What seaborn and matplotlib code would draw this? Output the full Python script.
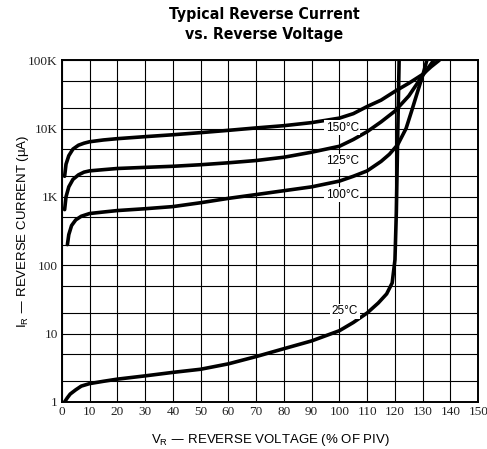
import matplotlib
matplotlib.use("Agg")
import matplotlib.pyplot as plt
import matplotlib.ticker as mticker
import seaborn as sns

# curves (x = % of PIV, y = reverse current in uA)
x_150 = [1, 1.5, 2.5, 4, 6, 8, 10, 15, 20, 30, 40, 50, 60, 70, 80, 90, 100, 105, 110, 115, 120, 125, 130, 133, 136]
y_150 = [2000, 3000, 4000, 5000, 5700, 6100, 6400, 6800, 7100, 7600, 8100, 8700, 9400, 10200, 11000, 12200, 14200,
         16500, 21000, 26000, 35000, 46000, 62000, 80000, 100000]

x_125 = [1, 1.5, 2.5, 4, 6, 8, 10, 15, 20, 30, 40, 50, 60, 70, 80, 90, 100, 105, 110, 115, 120, 125, 130, 134]
y_125 = [650, 1000, 1400, 1800, 2100, 2300, 2400, 2500, 2600, 2700, 2800, 2950, 3150, 3400, 3800, 4500, 5500,
         6900, 9000, 12500, 18000, 30000, 60000, 100000]

x_100 = [2, 2.5, 3.5, 5, 7, 10, 15, 20, 30, 40, 50, 60, 70, 80, 90, 100, 105, 110, 115, 118, 121, 124, 126, 128,
         130, 131.5]
y_100 = [200, 280, 380, 460, 520, 570, 600, 630, 670, 720, 820, 950, 1080, 1230, 1400, 1700, 2000, 2400, 3300,
         4200, 5800, 10000, 18000, 33000, 60000, 100000]

x_25 = [1, 2, 3, 5, 7, 10, 15, 20, 30, 40, 50, 60, 70, 80, 90, 100, 105, 110, 114, 117, 119, 120, 120.5, 121, 121.5]
y_25 = [1, 1.15, 1.3, 1.5, 1.7, 1.85, 2.0, 2.15, 2.4, 2.7, 3.0, 3.6, 4.6, 6.0, 7.8, 11, 14.5, 20, 28, 38, 55, 120,
        600, 8000, 100000]

curves = [("150°C", x_150, y_150), ("125°C", x_125, y_125), ("100°C", x_100, y_100), ("25°C", x_25, y_25)]
# label positions
label_x = [101, 101, 101, 102]
label_y = [10300, 3300, 1080, 21]

y_ticks = [1, 10, 100, 1000, 10000, 100000]
y_tick_labels = ["1", "10", "100", "1K", "10K", "100K"]
x_ticks = list(range(0, 151, 10))

sns.set_style("white")
plt.rcParams['font.family'] = ['Liberation Sans', 'DejaVu Sans']
plt.rcParams.update({"text.color": "black", "axes.labelcolor": "black",
                     "xtick.color": "black", "ytick.color": "black"})

fig = plt.figure(figsize=(4.87, 4.49), dpi=100)
ax = fig.add_axes([0.127, 0.105, 0.855, 0.761])

for (name, xs, ys) in curves:
    sns.lineplot(x=xs, y=ys, ax=ax, color="black", lw=2.6, sort=False, estimator=None)

ax.set_yscale("log")
ax.set_xlim(0, 150)
ax.set_ylim(1, 100000)
ax.set_xticks(x_ticks)
ax.set_xticklabels([str(t) for t in x_ticks], family="Liberation Serif", fontsize=9.5, color="#222222")
ax.set_yticks(y_ticks)
ax.set_yticklabels(y_tick_labels, family="Liberation Serif", fontsize=9.5, color="#222222")
ax.yaxis.set_minor_locator(mticker.LogLocator(base=10, subs=[2, 5]))
ax.yaxis.set_minor_formatter(mticker.NullFormatter())
ax.tick_params(which="both", length=0, pad=3)
ax.grid(True, which="both", color="black", lw=0.8)
ax.set_axisbelow(True)
for s in ax.spines.values():
    s.set_color("black")
    s.set_linewidth(1.4)

for (name, xs, ys), lx, ly in zip(curves, label_x, label_y):
    ax.text(lx, ly, name, fontsize=8.5, ha="center", va="center",
            bbox=dict(facecolor="white", edgecolor="none", pad=1))

ax.set_xlabel("V$_\\mathregular{R}$ — REVERSE VOLTAGE (% OF PIV)", fontsize=9.5, labelpad=10)
ax.set_ylabel("I$_\\mathregular{R}$ — REVERSE CURRENT (μA)", fontsize=9.5, labelpad=-2)

fig.text(0.542, 0.985, "Typical Reverse Current\nvs. Reverse Voltage", ha="center", va="top",
         fontsize=11.3, fontweight="bold", fontstretch="condensed",
         family=["DejaVu Sans"], linespacing=1.45)

fig.savefig("out.png", dpi=100)
